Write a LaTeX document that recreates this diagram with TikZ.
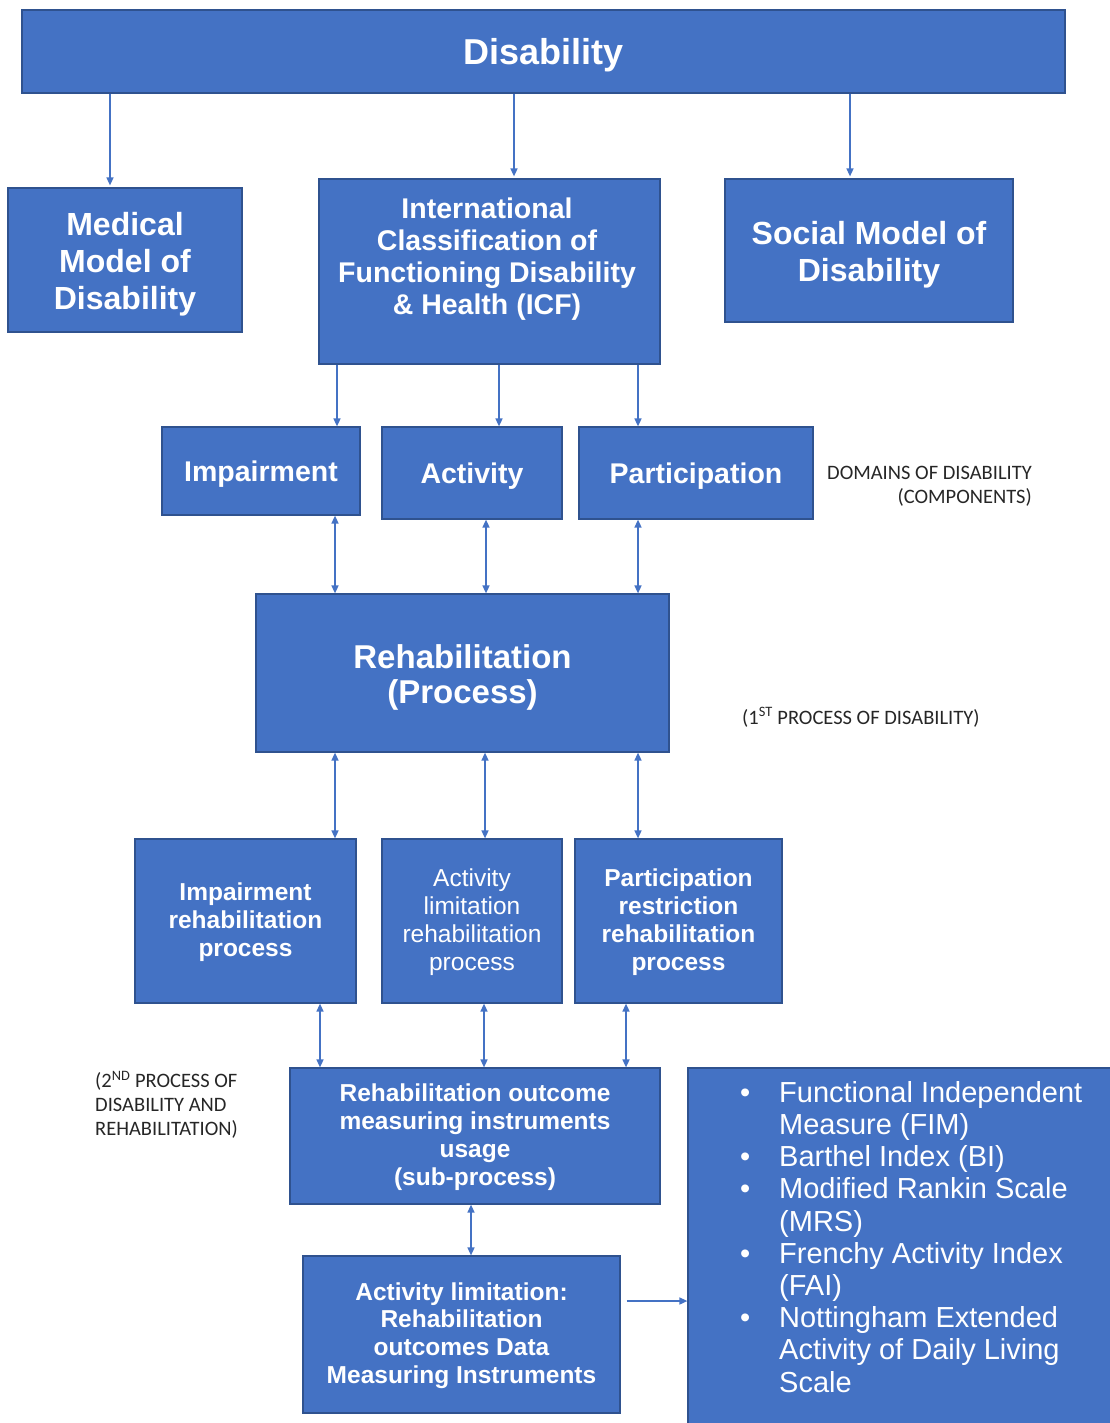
\documentclass[tikz,border=0pt]{standalone}
\usepackage{fontspec}
\setmainfont{Liberation Sans}
\newfontfamily\annfont{Carlito}
\usetikzlibrary{arrows.meta,calc}
\definecolor{boxfill}{HTML}{4472C4}
\definecolor{boxline}{HTML}{2F528F}
\definecolor{arrcol}{HTML}{4472C4}
\newcommand{\fsz}[2]{\fontsize{#1}{#2}\selectfont}
\begin{document}
\begin{tikzpicture}[x=1pt,y=-1pt,
  box/.style={draw=boxline, line width=1.2pt, fill=boxfill, inner sep=0pt},
  lbl/.style={text=white, align=center, inner sep=0pt},
  arr/.style={draw=arrcol, line width=1.5pt, -{Triangle[length=8pt,width=7pt]}},
  darr/.style={draw=arrcol, line width=1.5pt, {Triangle[length=8pt,width=7pt]}-{Triangle[length=8pt,width=7pt]}},
  ann/.style={font=\annfont\fsz{20.5}{24}, text=black!85, inner sep=0pt}]
\useasboundingbox (0,0) rectangle (1109,1423);

% boxes
\node[box, minimum width=1043pt, minimum height=83pt] (disab) at (543.5,51.5) {};
\node[box, minimum width=234pt, minimum height=144pt] (med) at (125,260) {};
\node[box, minimum width=341pt, minimum height=185pt] (icf) at (489.5,271.5) {};
\node[box, minimum width=288pt, minimum height=143pt] (soc) at (869,250.5) {};
\node[box, minimum width=198pt, minimum height=88pt] (imp) at (261,471) {};
\node[box, minimum width=180pt, minimum height=92pt] (act) at (472,473) {};
\node[box, minimum width=234pt, minimum height=92pt] (par) at (696,473) {};
\node[box, minimum width=413pt, minimum height=158pt] (reh) at (462.5,673) {};
\node[box, minimum width=221pt, minimum height=164pt] (imr) at (245.5,921) {};
\node[box, minimum width=180pt, minimum height=164pt] (alr) at (472,921) {};
\node[box, minimum width=207pt, minimum height=164pt] (prr) at (678.5,921) {};
\node[box, minimum width=370pt, minimum height=136pt] (roi) at (475,1136) {};
\node[box, minimum width=317pt, minimum height=157pt] (dat) at (461.5,1334.5) {};
\node[box, minimum width=432pt, minimum height=372pt] (lst) at (904,1254) {};

% box texts
\node[lbl, font=\bfseries\fsz{36}{40}] (disab-t) at (543.5,55.5) {Disability};
\node[lbl, font=\bfseries\fsz{32}{37}] (med-t) at (125,264) {Medical\\Model of\\Disability};
\node[lbl, font=\bfseries\fsz{28.5}{32}] (icf-t) at (487,259) {International\\Classification of\\Functioning Disability\\\& Health (ICF)};
\node[lbl, font=\bfseries\fsz{32}{37}] (soc-t) at (869,254.5) {Social Model of\\Disability};
\node[lbl, font=\bfseries\fsz{28.5}{32}] (imp-t) at (261,474) {Impairment};
\node[lbl, font=\bfseries\fsz{28.5}{32}] (act-t) at (472,476) {Activity};
\node[lbl, font=\bfseries\fsz{28.5}{32}] (par-t) at (696,476) {Participation};
\node[lbl, font=\bfseries\fsz{33}{35}] (reh-t) at (462.5,677) {Rehabilitation\\(Process)};
\node[lbl, font=\bfseries\fsz{24.5}{28}] (imr-t) at (245.5,922) {Impairment\\rehabilitation\\process};
\node[lbl, font=\fsz{24.5}{28}] (alr-t) at (472,922) {Activity\\limitation\\rehabilitation\\process};
\node[lbl, font=\bfseries\fsz{24.5}{28}] (prr-t) at (678.5,922) {Participation\\restriction\\rehabilitation\\process};
\node[lbl, font=\bfseries\fsz{24.5}{28}] (roi-t) at (475,1137) {Rehabilitation outcome\\measuring instruments\\usage\\(sub-process)};
\node[lbl, font=\bfseries\fsz{24.5}{27.7}] (dat-t) at (461.5,1335.5) {Activity limitation:\\Rehabilitation\\outcomes Data\\Measuring Instruments};
\node[anchor=north west, text=white, inner sep=0pt, align=left, font=\fsz{29}{32.2}] (lst-t) at (740,1081) {%
\makebox[39pt][l]{•}Functional Independent\\
\hspace*{39pt}Measure (FIM)\\
\makebox[39pt][l]{•}Barthel Index (BI)\\
\makebox[39pt][l]{•}Modified Rankin Scale\\
\hspace*{39pt}(MRS)\\
\makebox[39pt][l]{•}Frenchy Activity Index\\
\hspace*{39pt}(FAI)\\
\makebox[39pt][l]{•}Nottingham Extended\\
\hspace*{39pt}Activity of Daily Living\\
\hspace*{39pt}Scale};

% annotations
\node[ann, anchor=east, align=right] (dom) at (1032,486) {DOMAINS OF DISABILITY\\(COMPONENTS)};
\node[ann, anchor=west] (p1) at (742,717) {(1\textsuperscript{ST} PROCESS OF DISABILITY)};
\node[ann, anchor=west, align=left] (p2) at (95,1105) {(2\textsuperscript{ND} PROCESS OF\\DISABILITY AND\\REHABILITATION)};

% x positions of connectors
\coordinate (a1) at (110,0);
\coordinate (a2) at (514,0);
\coordinate (a3) at (850,0);
\coordinate (b1) at (337,0);
\coordinate (b2) at (499,0);
\coordinate (b3) at (638,0);
\coordinate (c1) at (335,0);
\coordinate (c2) at (486,0);
\coordinate (c3) at (638,0);
\coordinate (d1) at (335,0);
\coordinate (d2) at (485,0);
\coordinate (d3) at (638,0);
\coordinate (e1) at (320,0);
\coordinate (e2) at (484,0);
\coordinate (e3) at (626,0);
\coordinate (f1) at (471,0);
\coordinate (gy) at (0,1301);

% connectors
\draw[arr] (a1 |- disab.south) -- ($(a1 |- med.north)+(0,-2)$);
\draw[arr] (a2 |- disab.south) -- ($(a2 |- icf.north)+(0,-2)$);
\draw[arr] (a3 |- disab.south) -- ($(a3 |- soc.north)+(0,-2)$);

\draw[arr] (b1 |- icf.south) -- (b1 |- imp.north);
\draw[arr] (b2 |- icf.south) -- (b2 |- act.north);
\draw[arr] (b3 |- icf.south) -- (b3 |- par.north);

\draw[darr] (c1 |- imp.south) -- (c1 |- reh.north);
\draw[darr] (c2 |- act.south) -- (c2 |- reh.north);
\draw[darr] (c3 |- par.south) -- (c3 |- reh.north);

\draw[darr] (d1 |- reh.south) -- (d1 |- imr.north);
\draw[darr] (d2 |- reh.south) -- (d2 |- alr.north);
\draw[darr] (d3 |- reh.south) -- (d3 |- prr.north);

\draw[darr] (e1 |- imr.south) -- (e1 |- roi.north);
\draw[darr] (e2 |- alr.south) -- (e2 |- roi.north);
\draw[darr] (e3 |- prr.south) -- (e3 |- roi.north);

\draw[darr] (f1 |- roi.south) -- (f1 |- dat.north);

\draw[arr] ($(gy -| dat.east)+(6,0)$) -- (gy -| lst.west);
\end{tikzpicture}
\end{document}
